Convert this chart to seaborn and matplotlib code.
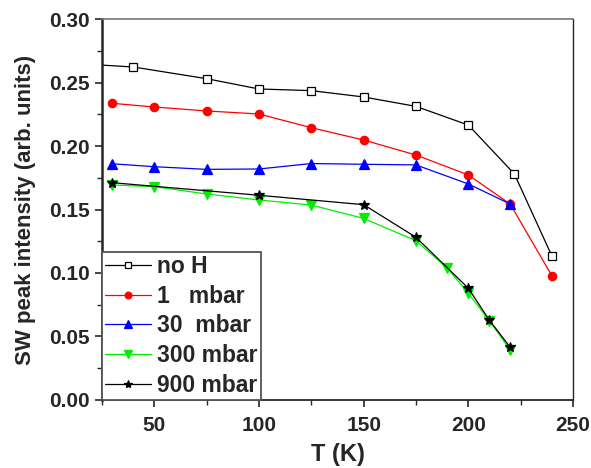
import numpy as np
import pandas as pd
import seaborn as sns
import matplotlib.pyplot as plt
from matplotlib.ticker import MultipleLocator

# series values
t_noh = [20, 40, 75, 100, 125, 150, 175, 200, 222, 240]
sw_noh = [0.2642, 0.2622, 0.2530, 0.2449, 0.2436, 0.2386, 0.2312, 0.2165, 0.1780, 0.1131]

t_1 = [30, 50, 75, 100, 125, 150, 175, 200, 220, 240]
sw_1 = [0.2336, 0.2307, 0.2276, 0.2252, 0.2144, 0.2047, 0.1929, 0.1772, 0.1543, 0.0976]

t_30 = [30, 50, 75, 100, 125, 150, 175, 200, 220]
sw_30 = [0.1860, 0.1837, 0.1816, 0.1819, 0.1862, 0.1856, 0.1851, 0.1701, 0.1543]

t_300 = [30, 50, 75, 100, 125, 150, 175, 190, 200, 210, 220]
sw_300 = [0.1693, 0.1680, 0.1622, 0.1575, 0.1535, 0.1430, 0.1254, 0.1037, 0.0840, 0.0625, 0.0394]

t_900 = [30, 100, 150, 175, 200, 210, 220]
sw_900 = [0.1711, 0.1612, 0.1538, 0.1281, 0.0880, 0.0630, 0.0415]

labels = ['no H', '1   mbar', '30  mbar', '300 mbar', '900 mbar']

sns.set_style('ticks')
plt.rcParams['font.family'] = ['Liberation Sans', 'DejaVu Sans']
plt.rcParams['font.weight'] = 'bold'

fig = plt.figure(figsize=(5.91, 4.68), dpi=100)
ax = fig.add_axes([0.1726, 0.1453, 0.7969, 0.8141])

# (x, y, label, color, marker, marker face, marker size)
series = [
    (t_noh, sw_noh, labels[0], 'black', 's', 'white', 5.2),
    (t_1, sw_1, labels[1], 'red', 'o', 'red', 6.0),
    (t_30, sw_30, labels[2], 'blue', '^', 'blue', 6.5),
    (t_300, sw_300, labels[3], '#00ee00', 'v', '#00ee00', 6.5),
    (t_900, sw_900, labels[4], 'black', '*', 'black', 7.5),
]

for x, y, lab, col, mk, mfc, ms in series:
    df = pd.DataFrame({'T': x, 'SW': y})
    sns.lineplot(data=df, x='T', y='SW', ax=ax, color=col, linewidth=0.9,
                 marker=mk, markersize=ms, markerfacecolor=mfc,
                 markeredgecolor='black' if mk == 's' else col,
                 markeredgewidth=0.9, label=lab)

ax.set_xlim(25, 250)
ax.set_ylim(0, 0.30)
ax.xaxis.set_major_locator(MultipleLocator(50))
ax.xaxis.set_minor_locator(MultipleLocator(25))
ax.yaxis.set_major_locator(MultipleLocator(0.05))
ax.yaxis.set_minor_locator(MultipleLocator(0.025))
ax.yaxis.set_major_formatter(plt.FormatStrFormatter('%.2f'))

ax.tick_params(which='major', direction='out', length=5, width=1.2, labelsize=15)
ax.tick_params(axis='x', which='major', pad=6.5)
ax.tick_params(axis='y', which='major', pad=3.5)
ax.tick_params(which='minor', direction='out', length=3.5, width=1.0)

for side in ['top', 'right', 'bottom', 'left']:
    ax.spines[side].set_visible(True)
ax.spines['left'].set_linewidth(1.8)
ax.spines['bottom'].set_linewidth(1.3)
ax.spines['top'].set_linewidth(1.2)
ax.spines['top'].set_color('#777777')
ax.spines['right'].set_linewidth(1.0)

ax.set_xlabel('T (K)', fontsize=17, fontweight='bold', labelpad=6)
ax.set_ylabel('SW peak intensity (arb. units)', fontsize=16, fontweight='bold', labelpad=10)

leg = ax.legend(loc='lower left', fontsize=16.5, frameon=True, fancybox=False,
                handlelength=2.0, handletextpad=0.3, labelspacing=0.3,
                borderpad=0.12, borderaxespad=0.0, framealpha=1, markerscale=0.8)
leg.get_frame().set_edgecolor('#555555')
leg.get_frame().set_linewidth(1.3)
for txt in leg.get_texts():
    txt.set_fontweight('bold')

fig.savefig('out.png', dpi=100)
